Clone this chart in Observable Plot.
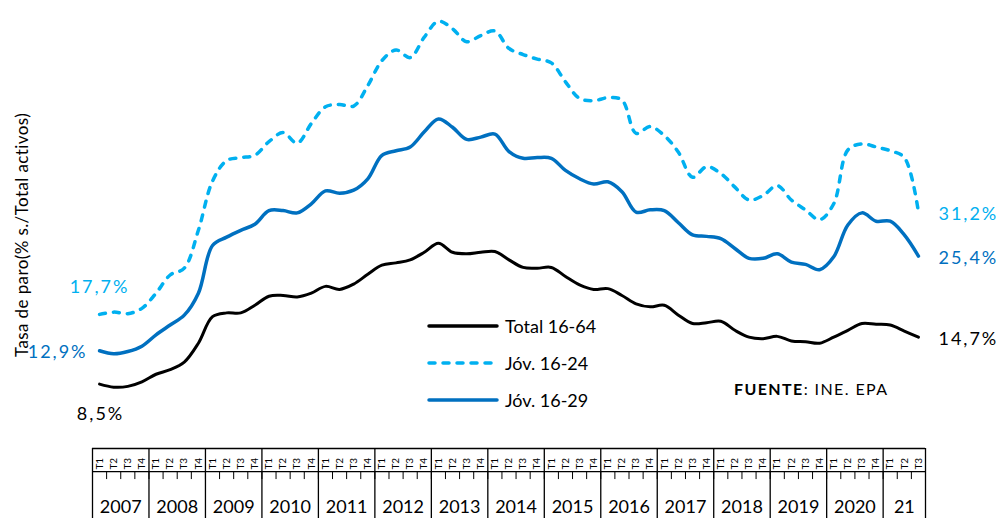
<!DOCTYPE html>
<html><head><meta charset="utf-8">
<script src="https://cdn.jsdelivr.net/npm/d3@7"></script>
<script src="https://cdn.jsdelivr.net/npm/@observablehq/plot@0.6"></script>
<style>
html,body{margin:0;padding:0;background:#fff;}
#wrap{position:relative;width:998px;height:518px;font-family:Lato,"Open Sans",sans-serif;color:#000;}
.ov{position:absolute;white-space:nowrap;line-height:1;}
</style></head><body><div id="wrap"></div>
<script>
// ---- data ----
const years = ["2007","2008","2009","2010","2011","2012","2013","2014","2015","2016","2017","2018","2019","2020","21"];
const quartersPerYear = [4,4,4,4,4,4,4,4,4,4,4,4,4,4,3];
const quarterLabels = ["T1","T2","T3","T4"];
const seriesNames = ["Total 16-64","Jóv. 16-24","Jóv. 16-29"];
const total1664 = [8.5,8.1,8.2,8.8,9.8,10.4,11.4,13.9,17.4,17.9,17.9,18.9,
  20.1,20.2,20.0,20.5,21.4,21.0,21.7,23.0,24.2,24.5,24.9,25.9,
  27.1,25.9,25.7,25.9,26.0,24.9,23.9,23.8,23.9,22.7,21.6,21.0,
  21.1,20.2,19.1,18.7,18.9,17.6,16.5,16.6,16.8,15.6,14.7,14.5,
  14.8,14.2,14.1,13.9,14.7,15.6,16.5,16.4,16.3,15.5,14.7];
const jov1624 = [17.7,18.0,17.8,18.5,20.5,22.9,23.8,28.8,35.3,38.0,38.4,38.7,
  40.5,41.7,40.3,42.9,45.1,45.4,45.2,47.9,51.2,52.6,51.6,54.3,
  56.4,55.4,53.7,54.5,55.1,52.8,52.0,51.4,50.9,48.4,46.2,45.9,
  46.3,46.0,41.6,42.5,41.3,39.1,35.8,37.2,36.3,34.5,32.8,33.4,
  34.7,32.8,31.5,30.2,32.3,39.4,40.2,39.8,39.3,38.4,31.2];
const jov1629 = [12.9,12.5,12.8,13.5,15.0,16.3,17.6,20.5,26.8,27.9,28.8,29.6,
  31.4,31.4,31.1,32.3,34.0,33.7,34.1,35.6,38.7,39.3,39.8,41.8,
  43.5,42.4,40.8,41.1,41.5,39.2,38.3,38.4,38.3,36.7,35.6,34.9,
  35.2,33.9,31.2,31.5,31.4,29.8,28.2,28.0,27.7,26.4,25.1,25.1,
  25.7,24.6,24.3,23.6,25.3,29.5,31.1,30.0,30.0,28.2,25.4];

// ---- derived tables ----
const quarters = [];
years.forEach((y, k) => { for (let q = 0; q < quartersPerYear[k]; q++) quarters.push({i: quarters.length, label: quarterLabels[q], year: y}); });
const bounds = [0]; quartersPerYear.forEach(n => bounds.push(bounds[bounds.length-1] + n));
const yearCells = years.map((y, k) => ({year: y, mid: (bounds[k] + bounds[k+1]) / 2}));
const N = quarters.length;
const toRows = (arr) => arr.map((v, i) => ({x: i + 0.5, v}));
const dTot = toRows(total1664), d24 = toRows(jov1624), d29 = toRows(jov1629);
const fmt = v => v.toFixed(1).replace(".", ",") + "%";

const BLACK = "#000000", LIGHT = "#00B0F0", BLUE = "#0070C0";
const FONT = "Lato, 'Open Sans', sans-serif";

// table geometry in y-units (below value 0)
const yTop = 0, yAxis = -3.04, yTick = -4.1, yBottom = -9.3, yYear = -7.7;

const endLabels = [
  {row: d24[0], color: LIGHT, dx: 0, dy: -27, anchor: "middle"},
  {row: d29[0], color: BLUE, dx: -12, dy: 1, anchor: "end"},
  {row: dTot[0], color: BLACK, dx: 1, dy: 30, anchor: "middle"},
  {row: d24[N-1], color: LIGHT, dx: 20, dy: 2, anchor: "start"},
  {row: d29[N-1], color: BLUE, dx: 20, dy: 2, anchor: "start"},
  {row: dTot[N-1], color: BLACK, dx: 20, dy: 2, anchor: "start"}
];

const plot = Plot.plot({
  width: 998, height: 518,
  marginLeft: 92, marginRight: 73, marginTop: 1, marginBottom: 70,
  x: {domain: [0, N], axis: null},
  y: {domain: [0, 59], axis: null},
  style: {background: "#fff", fontFamily: FONT},
  marks: [
    Plot.ruleY([yTop, yAxis], {x1: 0, x2: N, stroke: "#000", strokeWidth: 1.3}),
    Plot.ruleX(bounds, {y1: yTop, y2: yBottom, stroke: "#000", strokeWidth: 1.3}),
    Plot.ruleX(d3.range(N + 1), {y1: yAxis, y2: yTick, stroke: "#000", strokeWidth: 1}),
    Plot.text(quarters, {x: d => d.i + 0.5, y: yAxis, text: "label", rotate: -90, textAnchor: "start", dy: -2, fontSize: 10, fill: "#000", fontFamily: FONT}),
    Plot.text(yearCells, {x: "mid", y: yYear, text: "year", fontSize: 18, fill: "#000", fontFamily: FONT}),
    Plot.line(dTot, {x: "x", y: "v", stroke: BLACK, strokeWidth: 3, curve: "catmull-rom"}),
    Plot.line(d29, {x: "x", y: "v", stroke: BLUE, strokeWidth: 3.5, curve: "catmull-rom"}),
    Plot.line(d24, {x: "x", y: "v", stroke: LIGHT, strokeWidth: 3.5, strokeDasharray: "6,8", strokeLinecap: "round", curve: "catmull-rom"}),
    ...endLabels.map(l => Plot.text([l.row], {x: "x", y: "v", text: d => fmt(d.v), fill: l.color, dx: l.dx, dy: l.dy, textAnchor: l.anchor, fontSize: 18, fontFamily: FONT}))
  ]
});
d3.select(plot).selectAll("text").filter(function() { return /%$/.test(this.textContent); })
  .style("letter-spacing", "2px");
const wrap = document.getElementById("wrap");
wrap.appendChild(plot);

// y title
const yt = document.createElement("div");
yt.className = "ov";
yt.style.cssText = "left:21px;top:235px;font-size:17px;letter-spacing:0.4px;transform:translate(-50%,-50%) rotate(-90deg);";
yt.textContent = "Tasa de paro(% s./Total activos)";
wrap.appendChild(yt);

// legend
const legendStyles = [
  {name: seriesNames[0], color: BLACK, dash: null, y: 326},
  {name: seriesNames[1], color: LIGHT, dash: "6,8", y: 363},
  {name: seriesNames[2], color: BLUE, dash: null, y: 400}
];
legendStyles.forEach(s => {
  const svg = d3.create("svg").attr("width", 74).attr("height", 10)
    .style("position", "absolute").style("left", "426px").style("top", (s.y - 5) + "px");
  svg.append("line").attr("x1", 3).attr("x2", 71).attr("y1", 5).attr("y2", 5)
    .attr("stroke", s.color).attr("stroke-width", 3.5).attr("stroke-linecap", "round")
    .attr("stroke-dasharray", s.dash);
  wrap.appendChild(svg.node());
  const t = document.createElement("div");
  t.className = "ov";
  t.style.cssText = `left:505px;top:${s.y}px;font-size:18px;transform:translateY(-50%);`;
  t.textContent = s.name;
  wrap.appendChild(t);
});

// source
const src = document.createElement("div");
src.className = "ov";
src.style.cssText = "left:734px;top:389px;font-size:16px;letter-spacing:1.4px;transform:translateY(-50%);";
src.innerHTML = "<b>FUENTE</b>: INE. EPA";
wrap.appendChild(src);
</script></body></html>
